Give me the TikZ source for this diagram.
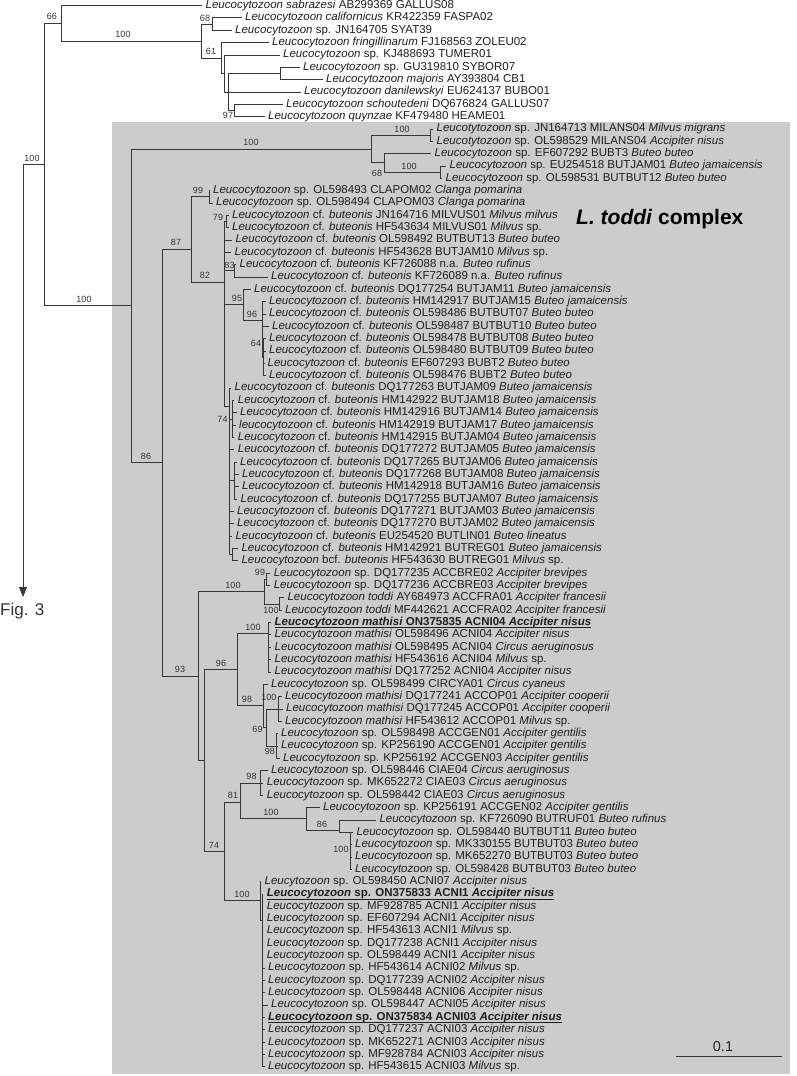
\documentclass[tikz,border=0pt]{standalone}
\usepackage{fontspec}
\setmainfont{Liberation Sans}
\usetikzlibrary{arrows.meta}
\definecolor{boxgray}{RGB}{204,204,204}
\definecolor{linegray}{RGB}{55,55,55}
\newcommand{\Lz}{\textit{Leucocytozoon}}
\newcommand{\Lcf}{\textit{Leucocytozoon} cf. \textit{buteonis}}
\newcommand{\Lmat}{\textit{Leucocytozoon mathisi}}
\newcommand{\myul}[1]{\setbox0\hbox{#1}\rlap{\vrule height -1.9pt depth 2.8pt width \wd0}\box0}
\newcommand{\tipn}[4]{\node[tipst] (#1) at (#2,#3) {#4};}
\newcommand{\bsl}[4]{\node[bsst] (#1) at (#2,#3) {#4};}
\newcommand{\bse}[4]{\node[bsst,anchor=east] (#1) at (#2,#3) {#4};}
\newcommand{\con}[2]{\draw[br] (#1) |- (#2);}
\begin{document}
\begin{tikzpicture}[x=1pt,y=-1pt,
  br/.style={draw=linegray,line width=0.8pt},
  tipst/.style={anchor=west,inner xsep=3.5pt,inner ysep=0pt,text height=8.4pt,text depth=2.6pt,font=\fontsize{11.5}{13}\selectfont,text=black!88},
  bsst/.style={inner sep=0pt,font=\fontsize{9}{10}\selectfont,text=black!80}]
\useasboundingbox (0,0) rectangle (797,1076);
\fill[boxgray] (112,122) rectangle (790,1074);

% ---------- internal nodes ----------
\coordinate (rootL) at (23,164.5);
\coordinate (arrowend) at (23,597);
\coordinate (n44) at (44,164.5);
\coordinate (n66) at (61,23.3);
\coordinate (n100a) at (201.5,41.0);
\coordinate (n68) at (212,24.0);
\coordinate (n61) at (221,58.0);
\coordinate (nc) at (224,73.4);
\coordinate (nd) at (228,91.9);
\coordinate (nGM) at (280,73.4);
\coordinate (nSQ) at (234,110.4);

\coordinate (T0) at (131,305.7);
\coordinate (nMil) at (371,149.0);
\coordinate (nMA) at (430,135.1);
\coordinate (n68b) at (384,162.8);
\coordinate (n100g) at (440,172.1);
\coordinate (T86) at (162,462.5);
\coordinate (T87) at (191,249);
\coordinate (nCL) at (209,196.8);
\coordinate (T82) at (224,282);
\coordinate (n79) at (226,221.5);
\coordinate (n83) at (234.5,270.8);
\coordinate (n95) at (243.7,304.7);
\coordinate (n96) at (262,320);
\coordinate (n64) at (263.5,357.2);
\coordinate (n74c) at (229,406);
\coordinate (n74) at (232,418.9);
\coordinate (nS2) at (234.5,480.6);
\coordinate (nS3) at (232,554.6);

\coordinate (T93) at (198,676);
\coordinate (nAcc) at (264.4,591.7);
\coordinate (n99b) at (266.7,579.3);
\coordinate (n100f) at (279,604.0);
\coordinate (nX) at (204.6,760.5);
\coordinate (n96b) at (237.5,669.4);
\coordinate (nMat) at (268,633);
\coordinate (n98) at (263,705.8);
\coordinate (n69) at (266,727.4);
\coordinate (n100c) at (278,708.9);
\coordinate (n98b) at (276,745.9);
\coordinate (n74b) at (224,851.5);
\coordinate (n81) at (240.5,802.2);
\coordinate (n98c) at (260,782.9);
\coordinate (n100d) at (306.7,818.8);
\coordinate (n86b) at (339,830);
\coordinate (nBB) at (350.5,832.3);
\coordinate (n100e) at (260,900.8);
\coordinate (nY) at (262,920);

% ---------- tips ----------
\tipn{t1}{202}{5.5}{\textit{Leucocytozoon sabrazesi} AB299369 GALLUS08}
\tipn{t2}{241.5}{17.8}{\textit{Leucocytozoon californicus} KR422359 FASPA02}
\tipn{t3}{231.5}{30.2}{\Lz{} sp. JN164705 SYAT39}
\tipn{t4}{268.5}{42.5}{\textit{Leucocytozoon fringillinarum} FJ168563 ZOLEU02}
\tipn{t5}{279.5}{54.9}{\Lz{} sp. KJ488693 TUMER01}
\tipn{t6}{299.5}{67.2}{\Lz{} sp. GU319810 SYBOR07}
\tipn{t7}{322.5}{79.5}{\textit{Leucocytozoon majoris} AY393804 CB1}
\tipn{t8}{300.5}{91.9}{\textit{Leucocytozoon danilewskyi} EU624137 BUBO01}
\tipn{t9}{282.5}{104.2}{\textit{Leucocytozoon schoutedeni} DQ676824 GALLUS07}
\tipn{t10}{264.5}{116.6}{\textit{Leucocytozoon quynzae} KF479480 HEAME01}
\tipn{t11}{433}{128.9}{\textit{Leucotytozoon} sp. JN164713 MILANS04 \textit{Milvus migrans}}
\tipn{t12}{433}{141.2}{\textit{Leucotytozoon} sp. OL598529 MILANS04 \textit{Accipiter nisus}}
\tipn{t13}{431}{153.6}{\Lz{} sp. EF607292 BUBT3 \textit{Buteo buteo}}
\tipn{t14}{446}{165.9}{\Lz{} sp. EU254518 BUTJAM01 \textit{Buteo jamaicensis}}
\tipn{t15}{442}{178.3}{\Lz{} sp. OL598531 BUTBUT12 \textit{Buteo buteo}}
\tipn{t16}{209.5}{190.6}{\Lz{} sp. OL598493 CLAPOM02 \textit{Clanga pomarina}}
\tipn{t17}{212.5}{202.9}{\Lz{} sp. OL598494 CLAPOM03 \textit{Clanga pomarina}}
\tipn{t18}{228.5}{215.3}{\Lcf{} JN164716 MILVUS01 \textit{Milvus milvus}}
\tipn{t19}{228.5}{227.6}{\Lcf{} HF543634 MILVUS01 \textit{Milvus} sp.}
\tipn{t20}{231.9}{240.0}{\Lcf{} OL598492 BUTBUT13 \textit{Buteo buteo}}
\tipn{t21}{231}{252.3}{\Lcf{} HF543628 BUTJAM10 \textit{Milvus} sp.}
\tipn{t22}{236}{264.6}{\Lcf{} KF726088 n.a. \textit{Buteo rufinus}}
\tipn{t23}{267.5}{277.0}{\Lcf{} KF726089 n.a. \textit{Buteo rufinus}}
\tipn{t24}{250.5}{289.3}{\Lcf{} DQ177254 BUTJAM11 \textit{Buteo jamaicensis}}
\tipn{t25}{265.5}{301.7}{\Lcf{} HM142917 BUTJAM15 \textit{Buteo jamaicensis}}
\tipn{t26}{265.5}{314.0}{\Lcf{} OL598486 BUTBUT07 \textit{Buteo buteo}}
\tipn{t27}{268.5}{326.3}{\Lcf{} OL598487 BUTBUT10 \textit{Buteo buteo}}
\tipn{t28}{265.5}{338.7}{\Lcf{} OL598478 BUTBUT08 \textit{Buteo buteo}}
\tipn{t29}{265.5}{351.0}{\Lcf{} OL598480 BUTBUT09 \textit{Buteo buteo}}
\tipn{t30}{264}{363.4}{\Lcf{} EF607293 BUBT2 \textit{Buteo buteo}}
\tipn{t31}{265.5}{375.7}{\Lcf{} OL598476 BUBT2 \textit{Buteo buteo}}
\tipn{t32}{231}{388.0}{\Lcf{} DQ177263 BUTJAM09 \textit{Buteo jamaicensis}}
\tipn{t33}{234.2}{400.4}{\Lcf{} HM142922 BUTJAM18 \textit{Buteo jamaicensis}}
\tipn{t34}{236.5}{412.7}{\Lcf{} HM142916 BUTJAM14 \textit{Buteo jamaicensis}}
\tipn{t35}{235.5}{425.1}{\textit{leucocytozoon} cf. \textit{buteonis} HM142919 BUTJAM17 \textit{Buteo jamaicensis}}
\tipn{t36}{234.2}{437.4}{\Lcf{} HM142915 BUTJAM04 \textit{Buteo jamaicensis}}
\tipn{t37}{234.2}{449.7}{\Lcf{} DQ177272 BUTJAM05 \textit{Buteo jamaicensis}}
\tipn{t38}{236.5}{462.1}{\Lcf{} DQ177265 BUTJAM06 \textit{Buteo jamaicensis}}
\tipn{t39}{238.5}{474.4}{\Lcf{} DQ177268 BUTJAM08 \textit{Buteo jamaicensis}}
\tipn{t40}{238.5}{486.8}{\Lcf{} HM142918 BUTJAM16 \textit{Buteo jamaicensis}}
\tipn{t41}{237}{499.1}{\Lcf{} DQ177255 BUTJAM07 \textit{Buteo jamaicensis}}
\tipn{t42}{233.5}{511.4}{\Lcf{} DQ177271 BUTJAM03 \textit{Buteo jamaicensis}}
\tipn{t43}{233.5}{523.8}{\Lcf{} DQ177270 BUTJAM02 \textit{Buteo jamaicensis}}
\tipn{t44}{231.9}{536.1}{\Lcf{} EU254520 BUTLIN01 \textit{Buteo lineatus}}
\tipn{t45}{237.9}{548.5}{\Lcf{} HM142921 BUTREG01 \textit{Buteo jamaicensis}}
\tipn{t46}{237.9}{560.8}{\Lz{} bcf. \textit{buteonis} HF543630 BUTREG01 \textit{Milvus} sp.}
\tipn{t47}{270.1}{573.1}{\Lz{} sp. DQ177235 ACCBRE02 \textit{Accipiter brevipes}}
\tipn{t48}{270.1}{585.5}{\Lz{} sp. DQ177236 ACCBRE03 \textit{Accipiter brevipes}}
\tipn{t49}{283.9}{597.8}{\textit{Leucocytozoon toddi} AY684973 ACCFRA01 \textit{Accipiter francesii}}
\tipn{t50}{281.5}{610.2}{\textit{Leucocytozoon toddi} MF442621 ACCFRA02 \textit{Accipiter francesii}}
\tipn{t51}{271}{622.5}{\myul{\textbf{\Lmat{} ON375835 ACNI04 \textit{Accipiter nisus}}}}
\tipn{t52}{271}{634.8}{\Lmat{} OL598496 ACNI04 \textit{Accipiter nisus}}
\tipn{t53}{271}{647.2}{\Lmat{} OL598495 ACNI04 \textit{Circus aeruginosus}}
\tipn{t54}{271}{659.5}{\Lmat{} HF543616 ACNI04 \textit{Milvus} sp.}
\tipn{t55}{271}{671.9}{\Lmat{} DQ177252 ACNI04 \textit{Accipiter nisus}}
\tipn{t56}{267.5}{684.2}{\Lz{} sp. OL598499 CIRCYA01 \textit{Circus cyaneus}}
\tipn{t57}{281.5}{696.5}{\Lmat{} DQ177241 ACCOP01 \textit{Accipiter cooperii}}
\tipn{t58}{282.5}{708.9}{\Lmat{} DQ177245 ACCOP01 \textit{Accipiter cooperii}}
\tipn{t59}{281.5}{721.2}{\Lmat{} HF543612 ACCOP01 \textit{Milvus} sp.}
\tipn{t60}{277.5}{733.6}{\Lz{} sp. OL598498 ACCGEN01 \textit{Accipiter gentilis}}
\tipn{t61}{277.5}{745.9}{\Lz{} sp. KP256190 ACCGEN01 \textit{Accipiter gentilis}}
\tipn{t62}{279.5}{758.2}{\Lz{} sp. KP256192 ACCGEN03 \textit{Accipiter gentilis}}
\tipn{t63}{267.5}{770.6}{\Lz{} sp. OL598446 CIAE04 \textit{Circus aeruginosus}}
\tipn{t64}{263.2}{782.9}{\Lz{} sp. MK652272 CIAE03 \textit{Circus aeruginosus}}
\tipn{t65}{263.2}{795.3}{\Lz{} sp. OL598442 CIAE03 \textit{Circus aeruginosus}}
\tipn{t66}{319.5}{807.6}{\Lz{} sp. KP256191 ACCGEN02 \textit{Accipiter gentilis}}
\tipn{t67}{375.8}{819.9}{\Lz{} sp. KF726090 BUTRUF01 \textit{Buteo rufinus}}
\tipn{t68}{352.8}{832.3}{\Lz{} sp. OL598440 BUTBUT11 \textit{Buteo buteo}}
\tipn{t69}{351.5}{844.6}{\Lz{} sp. MK330155 BUTBUT03 \textit{Buteo buteo}}
\tipn{t70}{351.5}{857.0}{\Lz{} sp. MK652270 BUTBUT03 \textit{Buteo buteo}}
\tipn{t71}{351.5}{869.3}{\Lz{} sp. OL598428 BUTBUT03 \textit{Buteo buteo}}
\tipn{t72}{261}{881.6}{\textit{Leucytozoon} sp. OL598450 ACNI07 \textit{Accipiter nisus}}
\tipn{t73}{263.2}{894.0}{\myul{\textbf{\Lz{} sp. ON375833 ACNI1 \textit{Accipiter nisus}}}}
\tipn{t74}{263.2}{906.3}{\Lz{} sp. MF928785 ACNI1 \textit{Accipiter nisus}}
\tipn{t75}{263.2}{918.7}{\Lz{} sp. EF607294 ACNI1 \textit{Accipiter nisus}}
\tipn{t76}{263.2}{931.0}{\Lz{} sp. HF543613 ACNI1 \textit{Milvus} sp.}
\tipn{t77}{263.2}{943.3}{\Lz{} sp. DQ177238 ACNI1 \textit{Accipiter nisus}}
\tipn{t78}{263.2}{955.7}{\Lz{} sp. OL598449 ACNI1 \textit{Accipiter nisus}}
\tipn{t79}{264.5}{968.0}{\Lz{} sp. HF543614 ACNI02 \textit{Milvus} sp.}
\tipn{t80}{264.5}{980.4}{\Lz{} sp. DQ177239 ACNI02 \textit{Accipiter nisus}}
\tipn{t81}{264.5}{992.7}{\Lz{} sp. OL598448 ACNI06 \textit{Accipiter nisus}}
\tipn{t82}{267.5}{1005.0}{\Lz{} sp. OL598447 ACNI05 \textit{Accipiter nisus}}
\tipn{t83}{264.5}{1017.4}{\myul{\textbf{\Lz{} sp. ON375834 ACNI03 \textit{Accipiter nisus}}}}
\tipn{t84}{264.5}{1029.7}{\Lz{} sp. DQ177237 ACNI03 \textit{Accipiter nisus}}
\tipn{t85}{264.5}{1042.1}{\Lz{} sp. MK652271 ACNI03 \textit{Accipiter nisus}}
\tipn{t86}{264.5}{1054.4}{\Lz{} sp. MF928784 ACNI03 \textit{Accipiter nisus}}
\tipn{t87}{264.5}{1066.7}{\Lz{} sp. HF543615 ACNI03 \textit{Milvus} sp.}

% ---------- connectors ----------
\draw[br] (rootL) -- (n44);
\draw[br,line width=1pt,-{Triangle[length=10pt,width=8pt]}] (rootL) -- (arrowend);
\con{n44}{n66}\con{n44}{T0}
\con{n66}{t1}\con{n66}{n100a}
\con{n100a}{n68}\con{n100a}{n61}
\con{n68}{t2}\con{n68}{t3}
\con{n61}{t4}\con{n61}{nc}
\con{nc}{t5}\con{nc}{nd}
\con{nd}{nGM}\con{nd}{t8}\con{nd}{nSQ}
\con{nGM}{t6}\con{nGM}{t7}
\con{nSQ}{t9}\con{nSQ}{t10}

\con{T0}{nMil}\con{T0}{T86}
\con{nMil}{nMA}\con{nMil}{n68b}
\con{nMA}{t11}\con{nMA}{t12}
\con{n68b}{t13}\con{n68b}{n100g}
\con{n100g}{t14}\con{n100g}{t15}
\con{T86}{T87}\con{T86}{T93}
\con{T87}{nCL}\con{T87}{T82}
\con{nCL}{t16}\con{nCL}{t17}
\con{T82}{n79}\con{T82}{t20}\con{T82}{t21}\con{T82}{n83}\con{T82}{n95}\con{T82}{n74c}
\con{n79}{t18}\con{n79}{t19}
\con{n83}{t22}\con{n83}{t23}
\con{n95}{t24}\con{n95}{n96}
\con{n96}{t25}\con{n96}{t26}\con{n96}{t27}\con{n96}{n64}
\con{n64}{t28}\con{n64}{t29}\con{n64}{t30}\con{n64}{t31}
\con{n74c}{t32}\con{n74c}{n74}\con{n74c}{t37}\con{n74c}{nS2}\con{n74c}{t42}\con{n74c}{t43}\con{n74c}{t44}\con{n74c}{nS3}
\con{n74}{t33}\con{n74}{t34}\con{n74}{t35}\con{n74}{t36}
\con{nS2}{t38}\con{nS2}{t39}\con{nS2}{t40}\con{nS2}{t41}
\con{nS3}{t45}\con{nS3}{t46}

\con{T93}{nAcc}\con{T93}{nX}
\con{nAcc}{n99b}\con{nAcc}{n100f}
\con{n99b}{t47}\con{n99b}{t48}
\con{n100f}{t49}\con{n100f}{t50}
\con{nX}{n96b}\con{nX}{n74b}
\con{n96b}{nMat}\con{n96b}{n98}
\con{nMat}{t51}\con{nMat}{t52}\con{nMat}{t53}\con{nMat}{t54}\con{nMat}{t55}
\con{n98}{t56}\con{n98}{n69}
\con{n69}{n100c}\con{n69}{n98b}
\con{n100c}{t57}\con{n100c}{t58}\con{n100c}{t59}
\con{n98b}{t60}\con{n98b}{t61}\con{n98b}{t62}
\con{n74b}{n81}\con{n74b}{n100e}
\con{n81}{n98c}\con{n81}{n100d}
\con{n98c}{t63}\con{n98c}{t64}\con{n98c}{t65}
\con{n100d}{t66}\con{n100d}{n86b}
\con{n86b}{t67}\con{n86b}{nBB}
\con{nBB}{t68}\con{nBB}{t69}\con{nBB}{t70}\con{nBB}{t71}
\con{n100e}{t72}\con{n100e}{nY}
\foreach \k in {73,...,87} {\draw[br] (nY) |- (t\k);}

% ---------- support values ----------
\bsl{b1}{52}{16.5}{66}
\bsl{b2}{123}{34.5}{100}
\bsl{b3}{205}{18}{68}
\bsl{b4}{211}{51.5}{61}
\bsl{b5}{228}{115.5}{97}
\bsl{b6}{32}{158}{100}
\bsl{b7}{84}{299}{100}
\bsl{b8}{251}{142.5}{100}
\bsl{b9}{402}{129}{100}
\bsl{b10}{377}{173}{68}
\bsl{b11}{409}{166}{100}
\bsl{b12}{198}{190}{99}
\bsl{b13}{218}{217}{79}
\bsl{b14}{176}{242.5}{87}
\bsl{b15}{229.5}{265}{83}
\bsl{b16}{205}{275.5}{82}
\bsl{b17}{237}{298.5}{95}
\bsl{b18}{252}{314}{96}
\bsl{b19}{256}{343}{64}
\bsl{b20}{222.5}{419}{74}
\bsl{b21}{146}{456}{86}
\bsl{b22}{260}{572}{99}
\bsl{b23}{233}{585.5}{100}
\bsl{b24}{271}{610}{100}
\bsl{b25}{253}{627}{100}
\bsl{b26}{221}{663}{96}
\bsl{b27}{180}{669.5}{93}
\bsl{b28}{247}{699.5}{98}
\bse{b29}{276.5}{697}{100}
\bsl{b30}{257.5}{729}{69}
\bse{b31}{275}{751}{98}
\bsl{b32}{251.5}{776}{98}
\bsl{b33}{233}{795.5}{81}
\bsl{b34}{271}{812.5}{100}
\bsl{b35}{322}{824}{86}
\bsl{b36}{341}{849}{100}
\bsl{b37}{214}{845}{74}
\bsl{b38}{242}{894.5}{100}

% ---------- other texts ----------
\node[anchor=west,inner sep=0pt,font=\fontsize{21}{24}\selectfont\bfseries] (title) at (576,219) {\textit{L. toddi} complex};
\node[anchor=west,inner sep=0pt,font=\fontsize{17}{20}\selectfont,text=black!80] (fig) at (0,611) {Fig. 3};
\coordinate (sbL) at (676,1056.3);
\coordinate (sbR) at (782,1056.3);
\draw[draw=linegray,line width=1pt] (sbL) -- (sbR);
\node[inner sep=0pt,font=\fontsize{14.5}{16}\selectfont,text=black!85] (sbtxt) at (723,1046) {0.1};
\end{tikzpicture}
\end{document}
